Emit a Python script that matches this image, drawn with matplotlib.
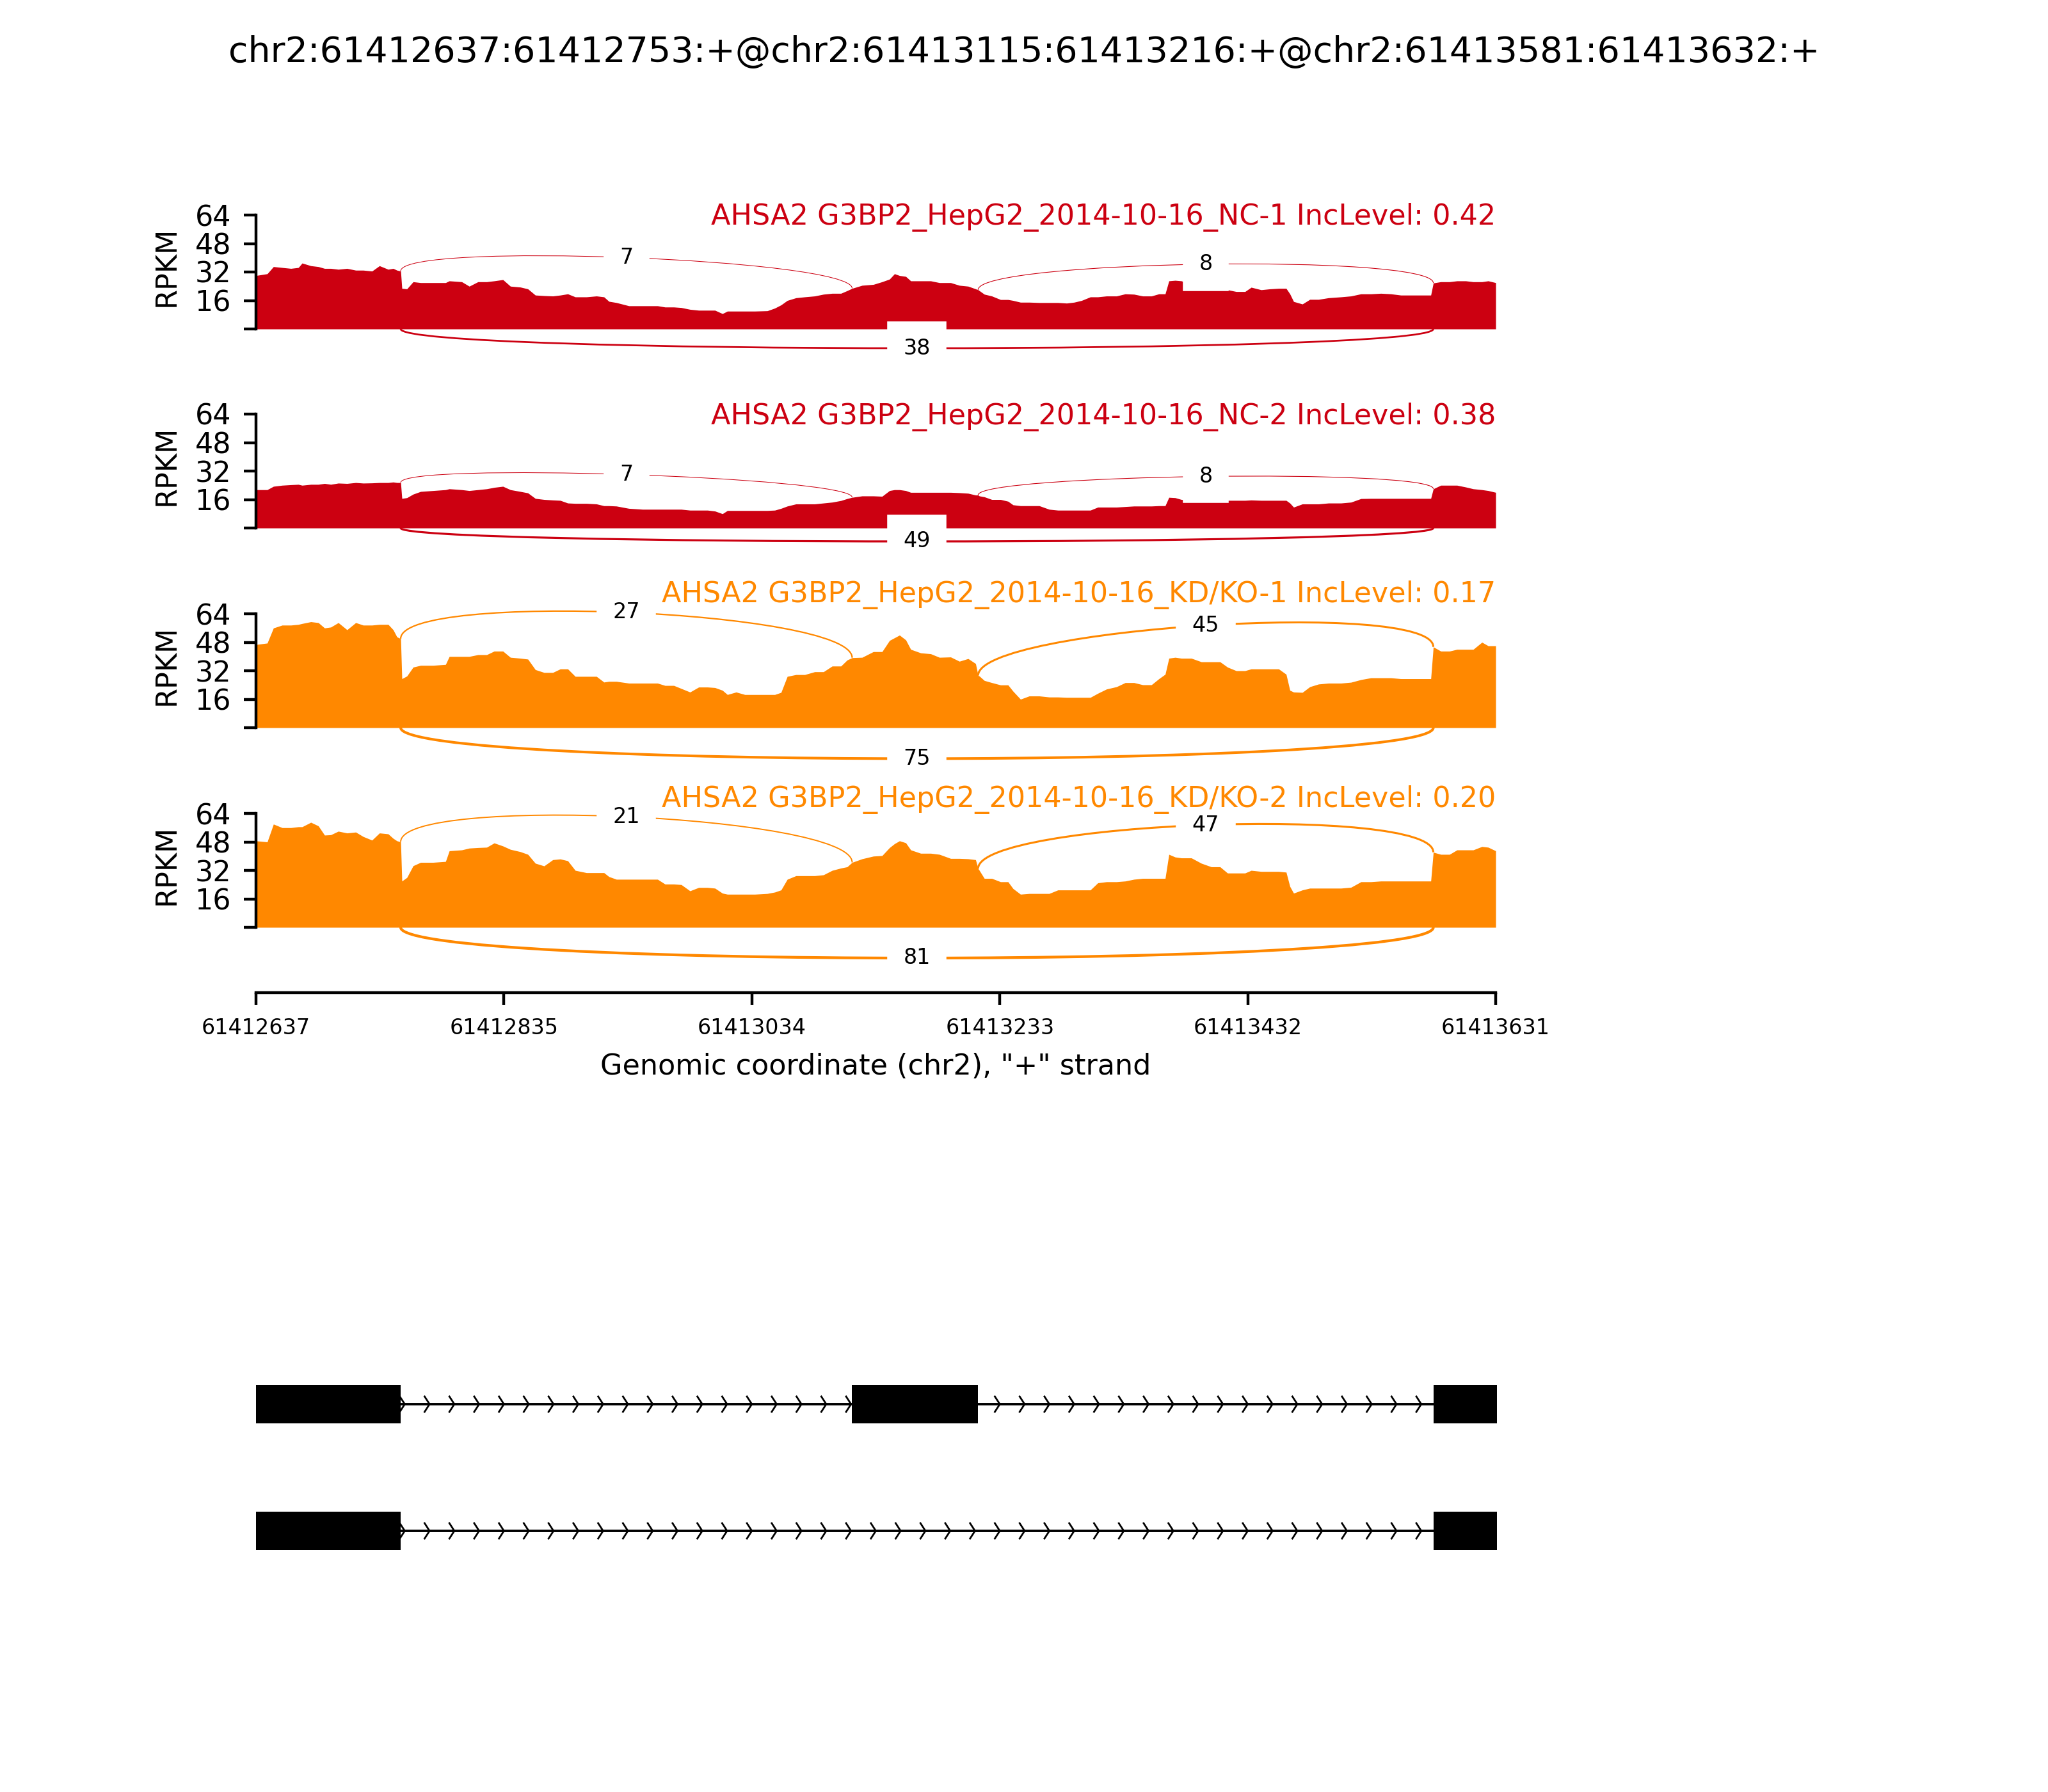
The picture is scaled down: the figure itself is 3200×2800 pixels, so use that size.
import numpy as np
import matplotlib
matplotlib.use("Agg")
import matplotlib.pyplot as plt
import matplotlib.transforms as mtransforms
from matplotlib.path import Path
from matplotlib.patches import PathPatch, Rectangle

# ── Event / region ────────────────────────────────────────
event_title = "chr2:61412637:61412753:+@chr2:61413115:61413216:+@chr2:61413581:61413632:+"
region_start = 61412637
region_end = 61413631
xtick_values = [61412637, 61412835.8, 61413034.6, 61413233.4, 61413432.2, 61413631]
xtick_labels = ["61412637", "61412835", "61413034", "61413233", "61413432", "61413631"]
ytick_values = [0, 16, 32, 48, 64]
ytick_labels = ["", "16", "32", "48", "64"]
xlabel_text = 'Genomic coordinate (chr2), "+" strand'

sample_labels = [
    "AHSA2 G3BP2_HepG2_2014-10-16_NC-1 IncLevel: 0.42",
    "AHSA2 G3BP2_HepG2_2014-10-16_NC-2 IncLevel: 0.38",
    "AHSA2 G3BP2_HepG2_2014-10-16_KD/KO-1 IncLevel: 0.17",
    "AHSA2 G3BP2_HepG2_2014-10-16_KD/KO-2 IncLevel: 0.20",
]
sample_colors = ["#CC0011", "#CC0011", "#FF8800", "#FF8800"]

# ── Coverage (RPKM), positions as bp offsets from region_start ──
cov_offsets = [
    0, 9, 14, 21, 28, 34, 37, 44, 50, 55,
    60, 66, 73, 80, 86, 93, 99, 106, 110, 113,
    116, 117, 121, 126, 132, 142, 152, 155, 165, 171,
    178, 185, 191, 198, 204, 212, 218, 224, 231, 238,
    244, 250, 256, 265, 273, 279, 283, 289, 299, 310,
    322, 328, 335, 341, 348, 355, 362, 368, 374, 378,
    385, 392, 400, 410, 416, 421, 426, 433, 440, 448,
    455, 462, 469, 474, 478, 486, 495, 502, 508, 512,
    516, 521, 525, 533, 541, 548, 557, 564, 571, 577,
    579, 580, 584, 590, 597, 603, 607, 613, 620, 628,
    636, 643, 650, 656, 662, 669, 675, 682, 690, 697,
    704, 711, 718, 724, 729, 732, 737, 742, 750, 758,
    766, 773, 779, 786, 793, 798, 806, 813, 820, 826,
    829, 832, 839, 845, 852, 860, 870, 878, 886, 894,
    902, 910, 918, 926, 934, 942, 944, 950, 957, 963,
    970, 976, 983, 988, 994,
]

cov_nc1 = [
    30, 31, 35, 34.5, 34, 34.5, 37, 35.5, 35, 34,
    34, 33.5, 34, 33, 33, 32.5, 35.5, 33.5, 34, 33,
    32.5, 22.8, 22.5, 26.5, 26, 26, 26, 27, 26.5, 24,
    26.5, 26.5, 27, 27.7, 24, 23.5, 22.5, 19, 18.7, 18.5,
    19, 19.7, 18, 18, 18.5, 18, 15.5, 14.8, 13, 13,
    13, 12.3, 12.3, 12, 11, 10.5, 10.5, 10.5, 8.6, 10,
    10, 10, 10, 10.2, 11.7, 13.5, 16, 17.5, 18, 18.5,
    19.5, 20, 20, 21.5, 22.8, 24.5, 25, 26.5, 28, 31,
    30, 29.5, 27, 27, 27, 26, 26, 24.5, 24, 22.5,
    22, 21.5, 19.5, 18.5, 16.5, 16.5, 16, 15, 15, 14.8,
    14.8, 14.8, 14.5, 15, 16, 18, 18, 18.5, 18.5, 19.7,
    19.5, 18.5, 18.5, 19.7, 19.7, 27, 27.3, 27, 25, 24,
    23, 22.5, 22, 21, 21, 23.4, 22, 22.5, 22.8, 22.8,
    19.7, 15.4, 14, 16.6, 16.6, 17.5, 18, 18.5, 19.7, 19.7,
    20, 19.7, 19, 19, 19, 19, 25.8, 26.5, 26.5, 27,
    27, 26.5, 26.5, 27, 26,
]

cov_nc2 = [
    21.5, 21.5, 23.4, 24, 24.3, 24.5, 24, 24.5, 24.5, 25,
    24.5, 25.2, 25, 25.5, 25.2, 25.3, 25.5, 25.5, 25.8, 25.5,
    25.5, 16.6, 17, 19, 20.5, 21, 21.5, 22, 21.5, 21,
    21.5, 22, 22.8, 23.4, 21.5, 20.5, 19.7, 16.6, 16, 15.7,
    15.5, 14, 13.8, 13.8, 13.5, 12.5, 12.5, 12.3, 11, 10.5,
    10.5, 10.5, 10.5, 10.5, 10, 10, 10, 9.5, 8, 9.8,
    9.8, 9.8, 9.8, 9.8, 10, 11, 12.3, 13.5, 13.5, 13.5,
    14, 14.5, 15.4, 16.5, 17.2, 18, 18, 17.8, 21, 21.5,
    21.5, 21, 20, 20, 20, 20, 20, 19.8, 19.5, 18.5,
    18.5, 18, 17.5, 16, 16, 15, 13, 12.5, 12.5, 12.5,
    10.5, 10, 10, 10, 10, 10, 11.7, 11.7, 11.7, 12,
    12.3, 12.3, 12.3, 12.5, 12.5, 17.2, 17, 16, 15.5, 15.5,
    15.5, 15.5, 15.5, 15.5, 15.5, 15.7, 15.5, 15.5, 15.5, 15.5,
    14, 11.7, 13.5, 13.5, 13.5, 14, 14, 14.5, 16.5, 16.6,
    16.6, 16.6, 16.6, 16.6, 16.6, 16.6, 22, 24, 24, 24,
    23, 22, 21.5, 21, 20,
]

cov_kd1 = [
    46.7, 47.5, 56, 57.6, 57.6, 58, 58.5, 59.5, 59, 56,
    56.5, 59, 55, 59, 57.6, 57.6, 58, 58, 55, 51,
    50, 27.5, 29, 34, 35, 35, 35.5, 40, 40, 40,
    41, 41, 43, 43, 39.5, 39, 38.5, 32.6, 31, 31,
    33, 33, 28.8, 28.8, 28.8, 25.6, 26, 26, 25, 25,
    25, 23.7, 23.7, 22, 20, 22.8, 22.8, 22.5, 21, 18.6,
    20, 18.6, 18.6, 18.6, 18.6, 19.8, 28.8, 29.8, 29.8, 31.4,
    31.4, 34.6, 34.6, 38, 39.3, 39.5, 42.7, 42.7, 49, 50.5,
    52, 49.3, 44, 42, 41.5, 39.5, 39.7, 37.3, 38.8, 36,
    29.3, 29, 26.5, 25.3, 24, 24, 20.5, 16, 17.8, 17.8,
    17.2, 17.2, 17, 17, 17, 17, 19.3, 21.7, 23, 25.3,
    25.3, 24.1, 24.1, 27.5, 30, 39, 39.5, 39, 39, 37,
    37, 37, 34, 32, 32, 33, 33, 33, 33, 30,
    21, 20, 19.8, 23, 24.5, 25, 25, 25.5, 27, 28,
    28, 28, 27.5, 27.5, 27.5, 27.5, 45.4, 43, 43, 44,
    44, 44, 48, 46, 46,
]

cov_kd2 = [
    48.6, 48, 58, 56, 56, 56.5, 56.5, 59, 57, 51.8,
    52, 54, 53, 53.5, 51, 49, 53, 52.5, 50, 48.6,
    48, 26, 28, 34.6, 36.5, 36.5, 37, 43, 43.5, 44.5,
    44.8, 45, 47.4, 45.7, 43.8, 42.5, 41, 36, 34.5, 38,
    38.4, 37.4, 32, 30.7, 30.7, 30.7, 28.5, 27, 27, 27,
    27, 24.3, 24.3, 24, 20.5, 22.4, 22.4, 22, 19.2, 18.6,
    18.6, 18.6, 18.6, 19, 19.8, 21, 27, 29, 29, 29,
    29.5, 32, 33.3, 34, 36.5, 38.5, 40, 40.3, 44.8, 47,
    48.6, 47.5, 43.5, 41.6, 41.6, 41, 38.7, 38.7, 38.5, 38,
    33, 32, 27.5, 27.5, 25.6, 25.6, 21.8, 18.6, 19, 19,
    19, 21, 21, 21, 21, 21, 25, 25.6, 25.6, 26,
    27, 27.5, 27.5, 27.5, 27.5, 41, 39.5, 39, 39, 36,
    34, 34, 30.5, 30.5, 30.5, 32, 31.4, 31.4, 31.4, 31,
    23, 19.2, 21, 22, 22, 22, 22, 22.5, 25.6, 25.6,
    26, 26, 26, 26, 26, 26, 42.2, 41, 41, 43.5,
    43.5, 43.5, 45.4, 45, 43,
]

# ── Junctions (left exon end -> right exon start) ─────────
jxn_left = [61412753, 61413216, 61412753]
jxn_right = [61413115, 61413581, 61413581]
jxn_above = [True, True, False]
jxn_counts_nc1 = [7, 8, 38]
jxn_counts_nc2 = [7, 8, 49]
jxn_counts_kd1 = [27, 45, 75]
jxn_counts_kd2 = [21, 47, 81]

# ── Transcript models ─────────────────────────────────────
tx1_starts = [61412637, 61413115, 61413581]
tx1_ends = [61412753, 61413216, 61413632]
tx2_starts = [61412637, 61413581]
tx2_ends = [61412753, 61413632]

covs = [cov_nc1, cov_nc2, cov_kd1, cov_kd2]
counts = [jxn_counts_nc1, jxn_counts_nc2, jxn_counts_kd1, jxn_counts_kd2]
for c in covs:
    assert len(c) == len(cov_offsets)

# ── Layout (pixels of a 3200x2800 canvas) ─────────────────
W, H = 3200, 2800
left_px, width_px = 400, 1937
px_per_unit = 178 / 64
ylo, yhi = -36.7, 75.3
zero_rows = [514, 825, 1137, 1449]
label_y = [58.6, 58.3, 70.5, 67.6]

fig = plt.figure(figsize=(8, 7), dpi=400)
fig.text(0.5, 1 - 82 / H, event_title, ha="center", va="center", fontsize=10)

xs = region_start + np.array(cov_offsets)
for i in range(4):
    bottom_px = zero_rows[i] - ylo * px_per_unit
    height_px = (yhi - ylo) * px_per_unit
    ax = fig.add_axes([left_px / W, 1 - bottom_px / H, width_px / W, height_px / H])
    color = sample_colors[i]
    ys = np.array(covs[i], dtype=float)
    ax.fill_between(xs, ys, 0, color=color, lw=0)

    # junction arcs, width grows with read count
    ymax = ys.max()
    for j in range(len(jxn_left)):
        ss1, ss2 = jxn_left[j], jxn_right[j]
        n = counts[i][j]
        if jxn_above[j]:
            h = 0.45 * ymax
            dl = np.interp(ss1, xs, ys)
            dr = np.interp(ss2, xs, ys)
            pts = [(ss1, dl), (ss1, dl + h), (ss2, dr + h), (ss2, dr)]
        else:
            h = 0.39 * ymax
            pts = [(ss1, 0), (ss1, -h), (ss2, -h), (ss2, 0)]
        path = Path(pts, [Path.MOVETO, Path.CURVE4, Path.CURVE4, Path.CURVE4])
        ax.add_patch(PathPatch(path, ec=color, fc="none", lw=0.06 * n ** 0.58))
        mx = (pts[0][0] + 3 * pts[1][0] + 3 * pts[2][0] + pts[3][0]) / 8
        my = (pts[0][1] + 3 * pts[1][1] + 3 * pts[2][1] + pts[3][1]) / 8
        ax.text(mx, my, str(n), fontsize=6, ha="center", va="center",
                backgroundcolor="w")

    ax.text(region_end, label_y[i], sample_labels[i], ha="right", va="baseline",
            fontsize=8, color=color)

    ax.set_xlim(region_start, region_end)
    ax.set_ylim(ylo, yhi)
    for s in ["top", "right"]:
        ax.spines[s].set_visible(False)
    ax.spines["left"].set_bounds(0, 64)
    ax.set_yticks(ytick_values)
    ax.set_yticklabels(ytick_labels, fontsize=8)
    ax.set_ylabel("RPKM", fontsize=8)
    ax.yaxis.set_label_coords(-0.061, 35, transform=mtransforms.blended_transform_factory(
        ax.transAxes, ax.transData))
    if i < 3:
        ax.spines["bottom"].set_visible(False)
        ax.set_xticks([])
    else:
        ax.set_xticks(xtick_values)
        ax.set_xticklabels(xtick_labels, fontsize=6)
        ax.set_xlabel(xlabel_text, fontsize=8)

# ── Gene track ───────────────────────────────────────────
axg = fig.add_axes([left_px / W, 1 - 2480 / H, width_px / W, 380 / H])
axg.set_xlim(region_start, region_end)
axg.set_ylim(0, 380)
axg.axis("off")
exon_h = 60
narrows = 50
spread = 0.2 * (region_end - region_start) / narrows
for yloc, starts, ends in [(286, tx1_starts, tx1_ends), (88, tx2_starts, tx2_ends)]:
    axg.hlines(yloc, ends[0], starts[-1], color="k", lw=0.7, zorder=1)
    for k in range(narrows):
        tip = region_start + k * (region_end - region_start) / narrows
        if tip <= ends[0] - spread or tip >= starts[-1]:
            continue
        axg.plot([tip - spread, tip, tip - spread],
                 [yloc - exon_h / 5, yloc, yloc + exon_h / 5], color="k", lw=0.5, zorder=1)
    for s, e in zip(starts, ends):
        axg.add_patch(Rectangle((s, yloc - exon_h / 2), e - s, exon_h,
                                fc="k", ec="none", zorder=3, clip_on=False))

fig.savefig("out.png", dpi=400)
